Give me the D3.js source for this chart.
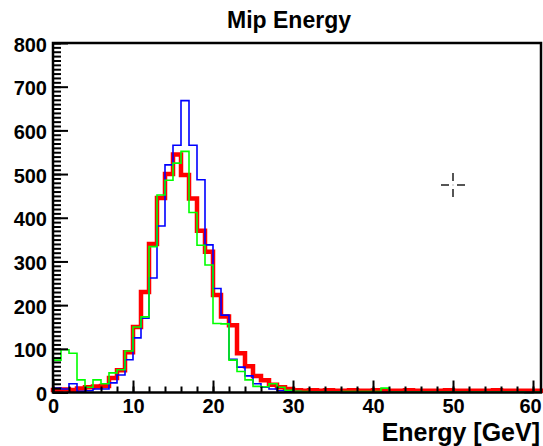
<!DOCTYPE html>
<html>
<head>
<meta charset="utf-8">
<script src="https://cdn.jsdelivr.net/npm/d3@7"></script>
<style>
  html, body { margin: 0; padding: 0; background: #fff; }
  svg { display: block; }
</style>
</head>
<body>
<svg id="chart" width="543" height="446"></svg>
<script>
// ---- data (counts per 1 GeV bin, bins start at 0 GeV) ----
const title = "Mip Energy";
const xTitle = "Energy [GeV]";
const xMajorTicks = [0, 10, 20, 30, 40, 50, 60];
const yMajorTicks = [0, 100, 200, 300, 400, 500, 600, 700, 800];

const redCounts = [
  6, 7, 6, 9, 12, 14, 15, 33, 51, 92,
  150, 230, 340, 445, 500, 545, 498, 444, 370, 322,
  223, 174, 154, 90, 60, 38, 28, 18, 12, 8,
  5, 4, 5, 4, 5, 4, 4, 5, 4, 4,
  5, 4, 4, 4, 5, 4, 4, 4, 4, 5,
  4, 4, 4, 4, 4, 5, 4, 4, 4, 4, 4
];
const blueCounts = [
  10, 8, 20, 3, 4, 8, 8, 22, 40, 75,
  125, 170, 262, 381, 521, 566, 668, 566, 487, 338,
  238, 177, 76, 58, 38, 20, 12, 8, 4, 2,
  2, 1, 1, 1, 1, 1, 0, 0, 0, 0,
  0, 0, 1, 1, 1, 1, 1, 1, 1, 1,
  1, 1, 1, 1, 1, 1, 1, 1, 1, 0, 1
];
const greenCounts = [
  74, 98, 90, 29, 12, 29, 20, 45, 52, 95,
  150, 173, 334, 452, 486, 525, 552, 412, 337, 292,
  158, 157, 74, 48, 29, 14, 13, 20, 12, 5,
  3, 2, 1, 1, 1, 1, 2, 2, 2, 2,
  2, 10, 1, 1, 1, 1, 1, 1, 1, 1,
  1, 1, 1, 1, 1, 1, 1, 1, 1, 0, 1
];
const seriesColors = ["#ff0000", "#0000ff", "#00ff00"];
const seriesWidths = [4.5, 1.6, 1.6];

// ---- layout ----
const svg = d3.select("#chart");
const mLeft = 53, mRight = 541, mTop = 43, mBottom = 392.5;
const nBins = redCounts.length;

const x = d3.scaleLinear().domain([0, nBins]).range([mLeft, mRight]);
const y = d3.scaleLinear().domain([0, 800]).range([mBottom, mTop]);

const font = "'Liberation Sans', Arial, Helvetica, sans-serif";

// histograms
const line = d3.line()
  .x(d => x(d[0]))
  .y(d => y(d[1]))
  .curve(d3.curveStepAfter);

const allSeries = [redCounts, blueCounts, greenCounts];
allSeries.forEach((vals, si) => {
  const pts = vals.map((v, i) => [i, v]);
  pts.push([vals.length, vals[vals.length - 1]]);
  svg.append("path")
    .attr("d", line(pts))
    .attr("fill", "none")
    .attr("stroke", seriesColors[si])
    .attr("stroke-width", seriesWidths[si])
    .attr("stroke-linejoin", "miter")
    .attr("stroke-linecap", "square");
});

// minor ticks
const yMinor = d3.range(0, 801, 10);
const xMinor = d3.range(0, 61, 2);

svg.append("g")
  .attr("transform", `translate(${mLeft},0)`)
  .call(d3.axisLeft(y).tickValues(yMinor).tickSize(-8).tickFormat(""))
  .call(g => g.select(".domain").remove())
  .selectAll("line").attr("stroke", "#000").attr("stroke-width", 2);

svg.append("g")
  .attr("transform", `translate(0,${mBottom})`)
  .call(d3.axisBottom(x).tickValues(xMinor).tickSize(-6).tickFormat(""))
  .call(g => g.select(".domain").remove())
  .selectAll("line").attr("stroke", "#000").attr("stroke-width", 2);

// major ticks with labels
const yAxis = svg.append("g")
  .attr("transform", `translate(${mLeft},0)`)
  .call(d3.axisLeft(y).tickValues(yMajorTicks).tickSize(-15).tickPadding(6).tickFormat(d3.format("d")))
  .call(g => g.select(".domain").remove());
yAxis.selectAll("line").attr("stroke", "#000").attr("stroke-width", 2);
yAxis.selectAll("text")
  .attr("font-family", font).attr("font-size", 20).attr("font-weight", "bold")
  .attr("fill", "#000").attr("dy", "0.4em");

const xAxis = svg.append("g")
  .attr("transform", `translate(0,${mBottom})`)
  .call(d3.axisBottom(x).tickValues(xMajorTicks).tickSize(-12).tickPadding(6).tickFormat(d3.format("d")))
  .call(g => g.select(".domain").remove());
xAxis.selectAll("line").attr("stroke", "#000").attr("stroke-width", 2);
xAxis.selectAll("text")
  .attr("font-family", font).attr("font-size", 20).attr("font-weight", "bold")
  .attr("fill", "#000")
  .attr("dx", d => d === 60 ? -3 : 0);

// frame
svg.append("rect")
  .attr("x", mLeft).attr("y", mTop)
  .attr("width", mRight - mLeft).attr("height", mBottom - mTop)
  .attr("fill", "none").attr("stroke", "#000").attr("stroke-width", 2.5);

// title
svg.append("text")
  .attr("x", 289).attr("y", 28)
  .attr("text-anchor", "middle")
  .attr("font-family", font).attr("font-size", 23).attr("font-weight", "bold")
  .text(title);

// x axis title
svg.append("text")
  .attr("x", 540).attr("y", 441)
  .attr("text-anchor", "end")
  .attr("font-family", font).attr("font-size", 25).attr("font-weight", "bold")
  .text(xTitle);

// crosshair cursor
const cx = 453, cy = 185;
const cross = svg.append("g").attr("stroke", "#555").attr("stroke-width", 2);
[[cx - 12, cy, cx - 4, cy], [cx + 4, cy, cx + 12, cy],
 [cx, cy - 12, cx, cy - 4], [cx, cy + 4, cx, cy + 12]].forEach(s => {
  cross.append("line").attr("x1", s[0]).attr("y1", s[1]).attr("x2", s[2]).attr("y2", s[3]);
});
svg.append("rect").attr("x", cx - 0.5).attr("y", cy - 0.5).attr("width", 1).attr("height", 1).attr("fill", "#777");
</script>
</body>
</html>
